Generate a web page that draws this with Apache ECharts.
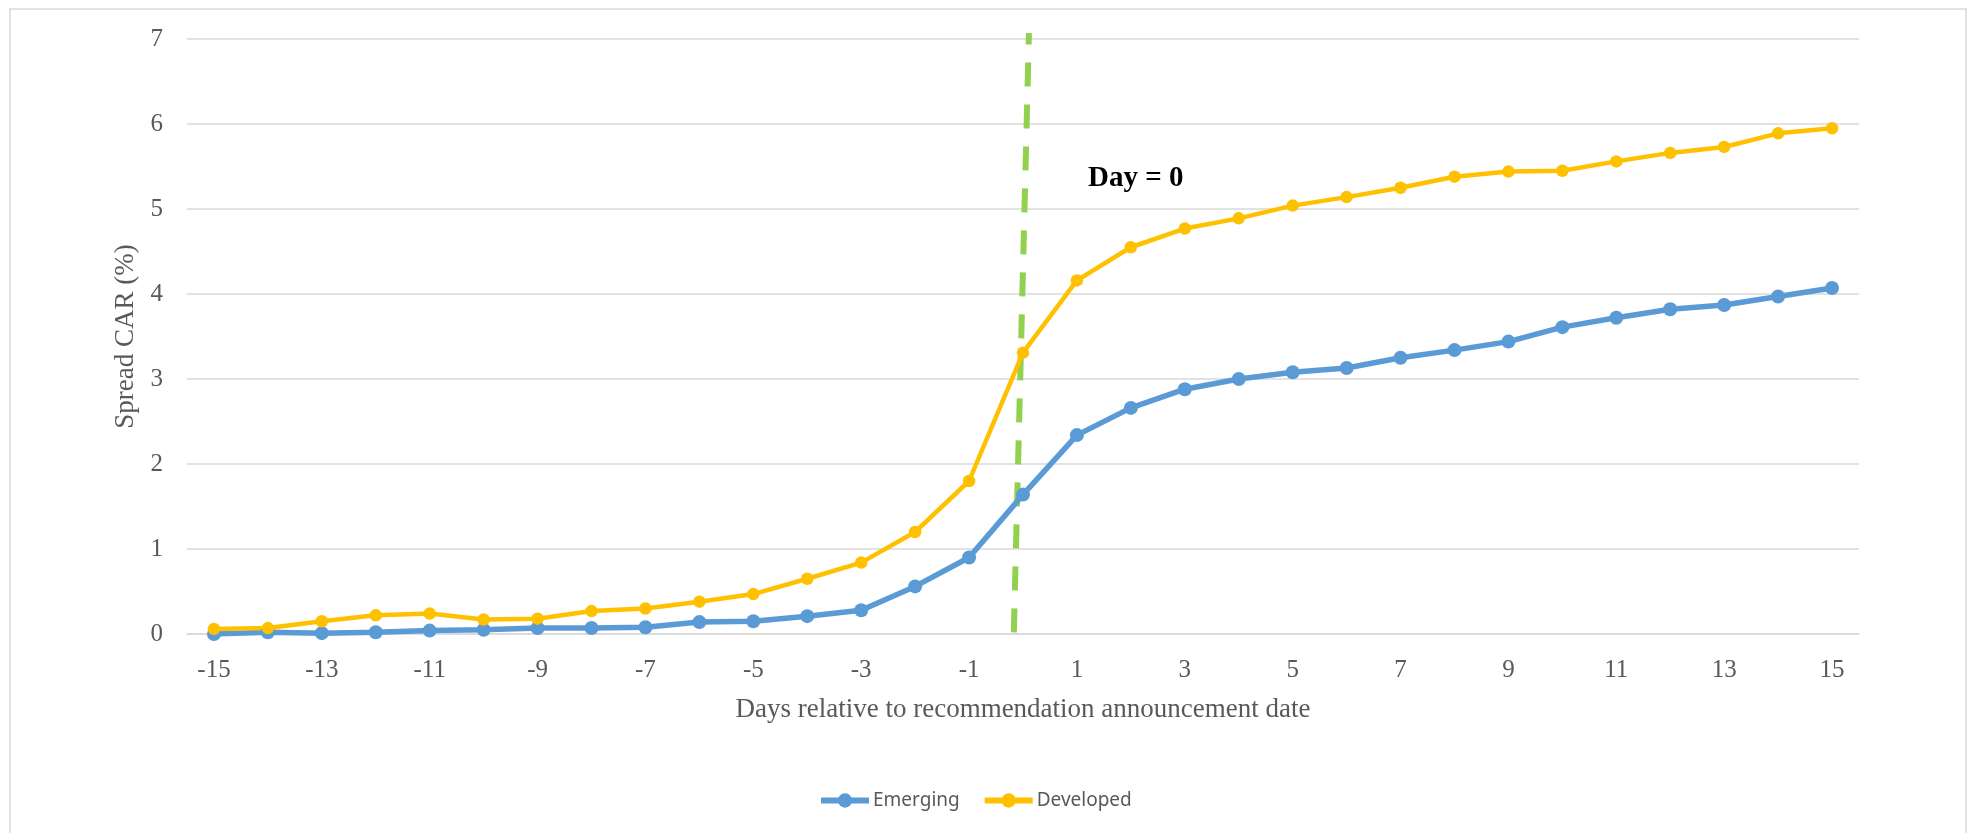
<!DOCTYPE html>
<html>
<head>
<meta charset="utf-8">
<script src="https://cdn.jsdelivr.net/npm/echarts@6/dist/echarts.min.js"></script>
<style>
html,body{margin:0;padding:0;background:#fff;}
#chart{width:1970px;height:833px;}
</style>
</head>
<body>
<div id="chart"></div>
<script>
const days = ['-15','-14','-13','-12','-11','-10','-9','-8','-7','-6','-5','-4','-3','-2','-1','0','1','2','3','4','5','6','7','8','9','10','11','12','13','14','15'];
const emerging = [0.00,0.02,0.01,0.02,0.04,0.05,0.07,0.07,0.08,0.14,0.15,0.21,0.28,0.56,0.90,1.64,2.34,2.66,2.88,3.00,3.08,3.13,3.25,3.34,3.44,3.61,3.72,3.82,3.87,3.97,4.07];
const developed = [0.06,0.07,0.15,0.22,0.24,0.17,0.18,0.27,0.30,0.38,0.47,0.65,0.84,1.20,1.80,3.31,4.16,4.55,4.77,4.89,5.04,5.14,5.25,5.38,5.44,5.45,5.56,5.66,5.73,5.89,5.95];
const dayZeroLine = [[-0.17, 0.02], [0.11, 7.07]];
const yTicks = {min: 0, max: 7, interval: 1};
const annotation = 'Day = 0';
const seriesNames = ['Emerging', 'Developed'];
const xTitle = 'Days relative to recommendation announcement date';
const yTitle = 'Spread CAR (%)';

const serif = "'Liberation Serif', 'Times New Roman', serif";
const gray = '#595959';
const chart = echarts.init(document.getElementById('chart'), null, {renderer: 'canvas'});
chart.setOption({
  animation: false,
  backgroundColor: '#ffffff',
  graphic: [
    {type: 'rect', shape: {x: 10, y: 9, width: 1956, height: 900}, style: {fill: 'none', stroke: '#d9d9d9', lineWidth: 1.5}, z: -1},
    {type: 'text', x: 1088, y: 179, style: {text: annotation, fontFamily: serif, fontWeight: 'bold', fontSize: 29, fill: '#000', textVerticalAlign: 'middle'}}
  ],
  grid: {left: 187, right: 111, top: 39, bottom: 199, containLabel: false},
  legend: {
    data: seriesNames,
    left: 813, top: 786,
    itemWidth: 48, itemHeight: 18, itemGap: 22,
    lineStyle: {width: 6},
    textStyle: {fontFamily: "'Noto Sans', sans-serif", fontSize: 19, color: gray, padding: [0, 0, 0, -1]}
  },
  xAxis: [
    {
      type: 'category', data: days, boundaryGap: true,
      axisTick: {show: false},
      axisLine: {lineStyle: {color: '#d9d9d9', width: 1.5}},
      axisLabel: {interval: 1, fontFamily: serif, fontSize: 25, color: gray, margin: 24},
      name: xTitle, nameLocation: 'middle', nameGap: 62,
      nameTextStyle: {fontFamily: serif, fontSize: 27, color: gray}
    },
    {type: 'value', min: -15.5, max: 15.5, show: false}
  ],
  yAxis: {
    type: 'value', min: yTicks.min, max: yTicks.max, interval: yTicks.interval,
    axisLine: {show: false}, axisTick: {show: false},
    splitLine: {lineStyle: {color: '#d9d9d9', width: 1.5}},
    axisLabel: {fontFamily: serif, fontSize: 25, color: gray, margin: 24},
    name: yTitle, nameLocation: 'middle', nameGap: 41,
    nameTextStyle: {fontFamily: serif, fontSize: 27, color: gray}
  },
  series: [
    {
      name: 'day0', type: 'line', xAxisIndex: 1, data: dayZeroLine,
      symbol: 'none', clip: false, silent: true,
      lineStyle: {color: '#92D050', width: 6, type: [24, 18]}
    },
    {
      name: seriesNames[0], type: 'line', data: emerging,
      symbol: 'circle', symbolSize: 14,
      itemStyle: {color: '#5B9BD5'},
      lineStyle: {color: '#5B9BD5', width: 5.5}
    },
    {
      name: seriesNames[1], type: 'line', data: developed,
      symbol: 'circle', symbolSize: 12.5,
      itemStyle: {color: '#FFC000'},
      lineStyle: {color: '#FFC000', width: 4.5}
    }
  ]
});
</script>
</body>
</html>
